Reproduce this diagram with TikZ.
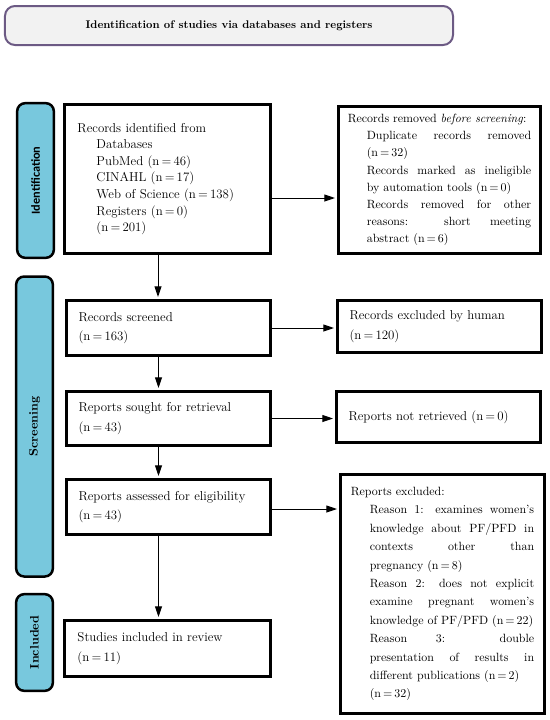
\documentclass[tikz,border=0pt]{standalone}
\usepackage{fontspec}
\newfontfamily\stagesans{Carlito}
\usetikzlibrary{arrows.meta}
\definecolor{stagefill}{HTML}{78C8DD}
\definecolor{titledraw}{HTML}{6C5A84}
\definecolor{titlefill}{HTML}{F2F2F2}
\newcommand{\indentwidth}{5.7mm}
\newcommand{\boxfont}{\fontsize{11}{14.2}\selectfont}
\newcommand{\sidefont}{\fontsize{10.2}{14.7}\selectfont}
\newcommand{\arrowshift}{-3mm}
\newcommand{\nrec}[1]{(n\,=\,#1)}

\begin{document}
\begin{tikzpicture}[x=0.3mm,y=-0.3mm,
  flowbox/.style={draw=black, line width=0.9mm, fill=white, inner sep=0pt,
    text width=54mm, align=left, font=\boxfont, minimum width=61.2mm,
    execute at begin node={\parindent=0pt\hyphenpenalty=10000}},
  sidebox/.style={flowbox, align=justify, text width=55mm},
  stagebox/.style={draw=black, line width=0.75mm, fill=stagefill, rounded corners=2.4mm,
    rotate=90, minimum height=11mm, inner sep=0pt},
  flowarrow/.style={-{Triangle[length=3.2mm,width=2.1mm]}, line width=0.3mm, shorten >=0.6mm}]

\useasboundingbox (0,0) rectangle (550,720);

% title
\node[draw=titledraw, line width=0.6mm, fill=titlefill, rounded corners=3mm,
  minimum width=134.4mm, minimum height=11.7mm, font=\fontsize{9.5}{11}\selectfont\bfseries]
  (title) at (229, 25.5) {Identification of studies via databases and registers};

% stages
\node[stagebox, minimum width=46.4mm, font=\stagesans\fontsize{10.5}{12}\selectfont\bfseries]
  (idStage) at (35.5, 180.5) {Identification};
\node[stagebox, minimum width=90mm, font=\fontsize{10.5}{12}\selectfont\bfseries]
  (screenStage) at (34.5, 426.5) {Screening};
\node[stagebox, minimum width=29mm, font=\fontsize{10.5}{12}\selectfont\bfseries]
  (inclStage) at (34.5, 642.5) {Included};

% identification
\node[flowbox, minimum width=61.8mm, minimum height=44.7mm] (idBox) at (167.5, 179) {Records identified from\par
  \leftskip=\indentwidth Databases\par PubMed \nrec{46}\par CINAHL \nrec{17}\par
  Web of Science \nrec{138}\par Registers \nrec{0}\par \nrec{201}\par};
\node[sidebox, minimum width=60.6mm, minimum height=44.1mm, font=\sidefont]
  (removedBox) at (439.5, 180) {Records removed \textit{before screening}:\par
  \leftskip=\indentwidth Duplicate records removed\linebreak \nrec{32}\par
  Records marked as ineligible\linebreak by automation tools \nrec{0}\par
  Records removed for other\linebreak reasons: short meeting\linebreak abstract \nrec{6}\par};

% screening
\node[flowbox, minimum height=16.5mm, font=\fontsize{11}{16.7}\selectfont]
  (screenedBox) at (168.5, 328) {Records screened\par \nrec{163}};
\node[flowbox, minimum height=15.6mm, font=\fontsize{11}{16.7}\selectfont]
  (humanBox) at (439.5, 326.5) {Records excluded by human\par \nrec{120}};

\node[flowbox, minimum height=16.2mm, font=\fontsize{11}{16.7}\selectfont]
  (soughtBox) at (168.5, 418.5) {Reports sought for retrieval\par \nrec{43}};
\node[flowbox, minimum height=15.3mm]
  (notRetrBox) at (438.5, 417) {Reports not retrieved \nrec{0}};

\node[flowbox, minimum height=16.5mm, font=\fontsize{11}{16.7}\selectfont]
  (assessedBox) at (168.5, 507) {Reports assessed for eligibility\par \nrec{43}};
\node[sidebox, minimum height=71.7mm, font=\fontsize{10.2}{15.7}\selectfont]
  (reportsExclBox) at (442.5, 594) {Reports excluded:\par
  \leftskip=\indentwidth Reason 1: examines women's\linebreak knowledge about PF/PFD in\linebreak
  contexts other than\linebreak pregnancy \nrec{8}\par
  Reason 2: does not explicit\linebreak examine pregnant women's\linebreak knowledge of PF/PFD \nrec{22}\par
  Reason 3: double\linebreak presentation of results in\linebreak different publications \nrec{2}\par
  \nrec{32}\par};

% included
\node[flowbox, minimum width=61.8mm, minimum height=16.8mm, font=\fontsize{11}{16.7}\selectfont]
  (includedBox) at (167.5, 648.5) {Studies included in review\par \nrec{11}};

% arrows
\draw[flowarrow] ([xshift=-2.85mm]idBox.south) -- ([xshift=-2.85mm]idBox.south |- screenedBox.north);
\draw[flowarrow] ([xshift=\arrowshift]screenedBox.south) -- ([xshift=\arrowshift]soughtBox.north);
\draw[flowarrow] ([xshift=\arrowshift]soughtBox.south) -- ([xshift=\arrowshift]assessedBox.north);
\draw[flowarrow] ([xshift=\arrowshift]assessedBox.south) -- ([xshift=\arrowshift]assessedBox.south |- includedBox.north);

\draw[flowarrow] ([yshift=-5.7mm]idBox.east) -- ([yshift=-5.7mm]idBox.east -| removedBox.west);
\draw[flowarrow] (screenedBox.east) -- (screenedBox.east -| humanBox.west);
\draw[flowarrow] (soughtBox.east) -- (soughtBox.east -| notRetrBox.west);
\draw[flowarrow] ([yshift=-0.6mm]assessedBox.east) -- ([yshift=-0.6mm]assessedBox.east -| reportsExclBox.west);

\end{tikzpicture}
\end{document}
